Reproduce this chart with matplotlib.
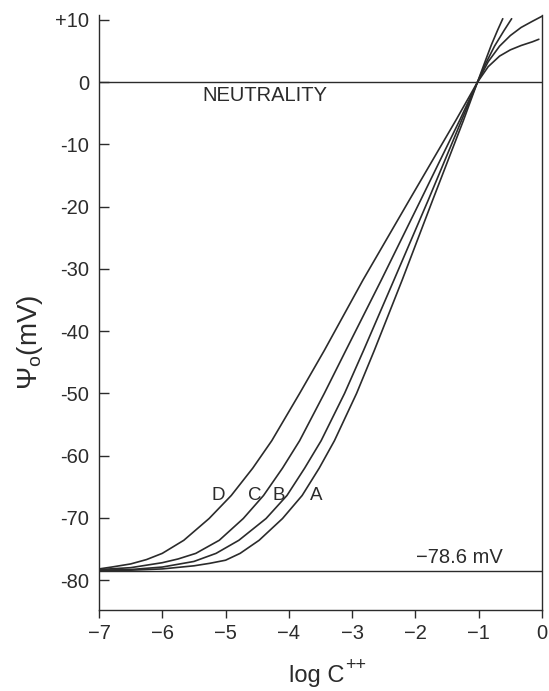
import numpy as np
import matplotlib
matplotlib.use("Agg")
import matplotlib.pyplot as plt

# ── values (log C, psi in mV) ────────────────────────────────────────────────
curve_a_x = [-7.0, -6.5, -6.0, -5.5, -5.25, -5.0, -4.77, -4.47, -4.10, -3.79,
             -3.52, -3.28, -2.93, -2.65, -2.21, -1.73, -1.24, -1.02,
             -0.9, -0.8, -0.7, -0.62]
curve_a_y = [-78.5, -78.4, -78.2, -77.7, -77.3, -76.8, -75.7, -73.6, -70.1, -66.4,
             -62.0, -57.6, -50.0, -43.1, -31.8, -19.0, -6.1, 0.0,
             3.3, 6.0, 8.4, 10.2]

curve_b_x = [-7.0, -6.5, -6.0, -5.5, -5.15, -4.79, -4.36, -4.03, -3.75, -3.49,
             -3.12, -2.82, -2.34, -1.80, -1.27, -1.02,
             -0.9, -0.75, -0.6, -0.48]
curve_b_y = [-78.4, -78.3, -77.9, -77.0, -75.7, -73.6, -70.1, -66.4, -62.0, -57.6,
             -50.0, -43.1, -31.8, -19.0, -6.1, 0.0,
             2.8, 5.8, 8.3, 10.2]

curve_c_x = [-7.0, -6.5, -6.0, -5.75, -5.47, -5.10, -4.72, -4.40, -4.10, -3.83,
             -3.44, -3.10, -2.54, -1.92, -1.30, -1.02,
             -0.85, -0.67, -0.5, -0.33, -0.15, 0.0]
curve_c_y = [-78.3, -78.0, -77.2, -76.6, -75.7, -73.6, -70.1, -66.4, -62.0, -57.6,
             -50.0, -43.1, -31.8, -19.0, -6.1, 0.0,
             3.3, 5.8, 7.5, 8.8, 9.8, 10.6]

curve_d_x = [-7.0, -6.8, -6.5, -6.25, -6.0, -5.66, -5.26, -4.91, -4.57, -4.27,
             -3.83, -3.44, -2.83, -2.10, -1.36, -1.02,
             -0.85, -0.67, -0.5, -0.33, -0.15, -0.05]
curve_d_y = [-78.2, -77.9, -77.4, -76.7, -75.7, -73.6, -70.1, -66.4, -62.0, -57.6,
             -50.0, -43.1, -31.8, -19.0, -6.1, 0.0,
             2.5, 4.2, 5.2, 5.9, 6.5, 6.9]

curve_labels = ["D", "C", "B", "A"]
label_x = [-5.12, -4.54, -4.16, -3.56]
label_y = -66.4

rest_potential = -78.6
x_ticks = [-7, -6, -5, -4, -3, -2, -1, 0]
x_ticklabels = ["\u22127", "\u22126", "\u22125", "\u22124", "\u22123", "\u22122", "\u22121", "0"]
y_ticks = [10, 0, -10, -20, -30, -40, -50, -60, -70, -80]
y_ticklabels = ["+10", "0", "-10", "-20", "-30", "-40", "-50", "-60", "-70", "-80"]

ink = "#2b2b2b"
plt.rcParams["font.family"] = ["Liberation Sans", "DejaVu Sans"]
plt.rcParams["mathtext.fontset"] = "custom"
plt.rcParams["mathtext.rm"] = "Liberation Sans"
plt.rcParams["mathtext.it"] = "Liberation Sans"

fig = plt.figure(figsize=(5.49, 6.91), dpi=100)
ax = fig.add_axes([99 / 549, 1 - 610 / 691, 443 / 549, 595 / 691])

for xs, ys in [(curve_a_x, curve_a_y), (curve_b_x, curve_b_y),
               (curve_c_x, curve_c_y), (curve_d_x, curve_d_y)]:
    ax.plot(xs, ys, color=ink, lw=1.2, solid_joinstyle="round",
            solid_capstyle="round")

ax.axhline(0, color=ink, lw=1.0)
ax.axhline(rest_potential, color=ink, lw=1.0)

for lbl, lx in zip(curve_labels, label_x):
    ax.text(lx, label_y, lbl, fontsize=13.5, color=ink, ha="center", va="center")

ax.text(-4.38, -2.2, "NEUTRALITY", fontsize=14.5, color=ink, ha="center", va="center")
ax.text(-1.31, -76.3, "\u221278.6 mV", fontsize=14.5, color=ink, ha="center", va="center")

ax.set_xlim(-7, 0)
ax.set_ylim(-84.8, 10.8)
ax.set_xticks(x_ticks)
ax.set_xticklabels(x_ticklabels)
ax.set_yticks(y_ticks)
ax.set_yticklabels(y_ticklabels)
ax.spines["top"].set_visible(False)
for s in ["left", "right", "bottom"]:
    ax.spines[s].set_color(ink)
    ax.spines[s].set_linewidth(1.0)
ax.tick_params(axis="x", direction="out", length=6, width=1.0, color=ink,
               labelsize=14.5, labelcolor=ink, pad=4)
ax.tick_params(axis="y", direction="in", length=7, width=1.0, color=ink,
               labelsize=14.5, labelcolor=ink, pad=7)

# x label: "log C" with a large "++" superscript
fig.text(344 / 549, 1 - 676 / 691, "log C", fontsize=17, color=ink,
         ha="right", va="center")
fig.text(345 / 549, 1 - 666 / 691, "++", fontsize=13, color=ink,
         ha="left", va="center")
fig.text(30 / 549, 1 - 342 / 691, "\u03a8$_\\mathrm{o}$(mV)", fontsize=20, color=ink,
         ha="center", va="center", rotation=90)

fig.savefig("out.png", dpi=100)
